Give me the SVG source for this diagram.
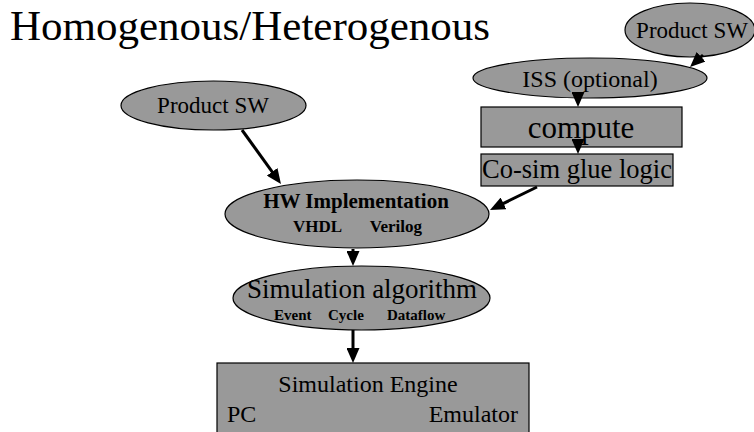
<svg xmlns="http://www.w3.org/2000/svg" width="754" height="432" viewBox="0 0 754 432">
<style>
.shape{fill:#999999;stroke:#000;stroke-width:1.2}
.t{font-family:"Liberation Serif","Times New Roman",serif;fill:#000}
.b{font-weight:bold}
.edge{stroke:#000;stroke-width:3;fill:none}
</style>
<defs>
<marker id="ah" viewBox="0 0 15 13" refX="5" refY="6.5" markerWidth="15" markerHeight="13" markerUnits="userSpaceOnUse" orient="auto">
<path d="M0,0 L15,6.5 L0,13 z" fill="#000"/>
</marker>
</defs>
<rect width="754" height="432" fill="#fff"/>
<text class="t" x="10" y="40" font-size="43">Homogenous/Heterogenous</text>

<g id="productsw-right">
<ellipse class="shape" cx="690" cy="30" rx="65" ry="27"/>
<text class="t" x="692" y="38" font-size="23" text-anchor="middle">Product SW</text>
</g>
<g id="iss">
<ellipse class="shape" cx="590" cy="78" rx="117" ry="20"/>
<text class="t" x="590" y="87" font-size="24" text-anchor="middle">ISS (optional)</text>
</g>
<g id="compute">
<rect class="shape" x="481" y="107" width="201" height="40"/>
<text class="t" x="581" y="138" font-size="31" text-anchor="middle">compute</text>
</g>
<g id="cosim">
<rect class="shape" x="481" y="154" width="192" height="32"/>
<text class="t" x="577" y="178" font-size="26.5" text-anchor="middle">Co-sim glue logic</text>
</g>
<g id="productsw-left">
<ellipse class="shape" cx="213.5" cy="105.5" rx="92.5" ry="24.5"/>
<text class="t" x="213" y="113" font-size="23" text-anchor="middle">Product SW</text>
</g>
<g id="hw">
<ellipse class="shape" cx="357" cy="214" rx="132" ry="34"/>
<text class="t b" x="356" y="208" font-size="21" text-anchor="middle">HW Implementation</text>
<text class="t b" x="293" y="232" font-size="17">VHDL</text>
<text class="t b" x="422" y="232" font-size="17" text-anchor="end">Verilog</text>
</g>
<g id="simalg">
<ellipse class="shape" cx="361.5" cy="298" rx="128.5" ry="32"/>
<text class="t" x="362" y="298" font-size="27" text-anchor="middle">Simulation algorithm</text>
<text class="t b" x="274" y="320" font-size="15">Event</text>
<text class="t b" x="328" y="320" font-size="15">Cycle</text>
<text class="t b" x="387" y="320" font-size="15">Dataflow</text>
</g>
<g id="engine">
<rect class="shape" x="217" y="363" width="312" height="80"/>
<text class="t" x="368" y="392" font-size="24" text-anchor="middle">Simulation Engine</text>
<text class="t" x="227" y="422" font-size="24">PC</text>
<text class="t" x="518" y="422" font-size="24" text-anchor="end">Emulator</text>
</g>

<g id="connectors">
<line class="edge" x1="242" y1="130" x2="275.1" y2="175.9" marker-end="url(#ah)"/>
<line class="edge" x1="537" y1="187" x2="499" y2="205.6" marker-end="url(#ah)"/>
<line class="edge" x1="353" y1="249" x2="353" y2="256" marker-end="url(#ah)"/>
<line class="edge" x1="353" y1="330" x2="353" y2="353" marker-end="url(#ah)"/>
<line class="edge" x1="578" y1="94" x2="578" y2="97" marker-end="url(#ah)"/>
<line class="edge" x1="578" y1="141" x2="578" y2="144" marker-end="url(#ah)"/>
<line class="edge" x1="703" y1="55" x2="697.4" y2="60.2" marker-end="url(#ah)"/>
</g>
</svg>
